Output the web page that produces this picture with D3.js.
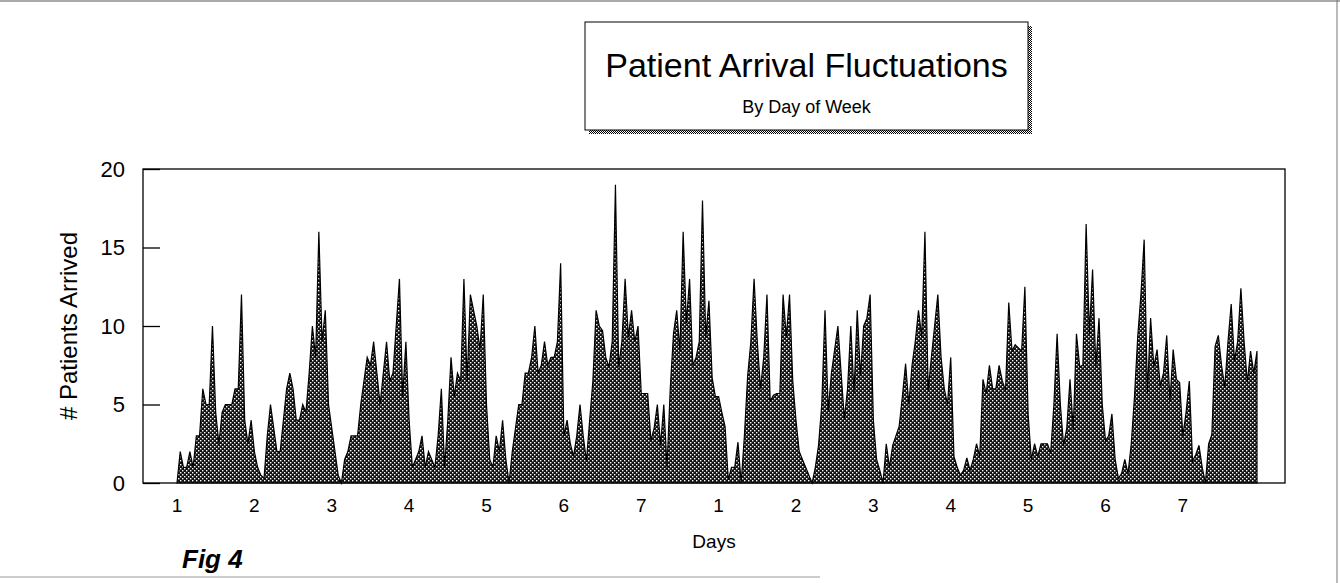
<!DOCTYPE html>
<html>
<head>
<meta charset="utf-8">
<script src="https://cdn.jsdelivr.net/npm/d3@7"></script>
<style>
  body { margin: 0; background: #fff; }
  text { font-family: Arial, "Liberation Sans", sans-serif; fill: #000; }
</style>
</head>
<body>
<div id="chart"></div>
<script>
// hourly arrivals, one array per day (24 values each)
const day1  = [0, 2, 1, 1, 2, 1, 3, 3, 6, 5, 5, 10, 4.5, 2.5, 4.5, 5, 5, 5, 6, 6, 12, 4, 2.5, 4];
const day2  = [2, 1, 0.5, 0.3, 3, 5, 3.5, 2, 2, 4, 6, 7, 6, 4, 4, 5, 4.5, 7, 10, 8, 16, 9, 11, 5];
const day3  = [3.5, 2, 0.5, 0, 1.5, 2, 3, 3, 3, 5, 6.5, 8, 7.5, 9, 7, 5, 7, 9, 6.5, 7, 10, 13, 5.5, 9];
const day4  = [4, 1, 1.5, 2, 3, 1, 2, 1.5, 1, 3, 6, 1, 4, 8, 5.5, 7, 6.5, 13, 6.5, 12, 11, 10, 8.5, 12];
const day5  = [5, 1.5, 1, 3, 2, 4, 1.5, 0, 2, 3.5, 5, 5, 7, 7, 8, 10, 7, 7.5, 9, 7.5, 8, 8, 9, 14];
const day6  = [3, 4, 2.5, 1.7, 3, 5, 3, 1.4, 4, 6.5, 11, 10, 9.7, 8, 7.4, 9, 19, 7.4, 9, 13, 9.3, 11, 9, 10];
const day7  = [5.7, 5.7, 5.7, 2.7, 3.5, 5, 2.4, 5, 1, 6, 9.5, 11, 8.4, 16, 10.2, 13, 7.5, 8, 9, 18, 9.3, 11.6, 6.7, 5.5];
const day8  = [5.5, 4.5, 3.6, 0.2, 1, 1, 2.6, 0, 3, 6.8, 9, 13, 9, 6, 8, 12, 5.2, 5.6, 5.7, 5.7, 12, 9.3, 12, 6.5];
const day9  = [4, 2, 1.5, 1, 0.5, 0, 1, 2.4, 5, 11, 4.6, 7, 8.5, 10, 7, 4.1, 6, 10, 5.7, 11, 6.8, 10, 10.5, 12];
const day10 = [4, 1.5, 0.8, 0, 2.5, 1, 2.4, 3, 3.6, 5.5, 7.6, 5, 7.5, 9, 11, 9.3, 16, 5.9, 8, 10, 12, 8, 6, 5];
const day11 = [8, 1.7, 1, 0.5, 0.8, 1.6, 0.8, 1.5, 2.5, 1.7, 6.6, 5.7, 7.5, 6, 6, 7.5, 6.5, 5.9, 11.5, 8.4, 8.8, 8.6, 8.4, 12.5];
const day12 = [4.4, 1.5, 2.5, 1.7, 2.5, 2.5, 2.5, 1.9, 5, 9.5, 5, 2.4, 3.5, 6.6, 3.4, 9.5, 7.4, 7.5, 16.5, 9.5, 13.6, 7.4, 10.5, 5];
const day13 = [2.7, 3, 4.4, 1.5, 0.3, 0.6, 1.5, 0.6, 2.5, 5.5, 9.3, 12, 15.5, 5.7, 10.5, 7.4, 8.5, 6.2, 7, 9.4, 5.2, 8.5, 6.6, 6.4];
const day14 = [3, 4.5, 6.5, 1.4, 1.8, 2.4, 1, 0, 2.5, 3.1, 8.7, 9.4, 7.5, 6.1, 9, 11.4, 7.8, 9, 12.4, 9, 6.4, 8.4, 7, 8.4];

const dayLabels = ["1", "2", "3", "4", "5", "6", "7", "1", "2", "3", "4", "5", "6", "7"];
const yTicks = [0, 5, 10, 15, 20];

const arrivals = [].concat(day1, day2, day3, day4, day5, day6, day7,
                           day8, day9, day10, day11, day12, day13, day14);

const W = 1340, H = 583;
const plot = {left: 143, right: 1285, top: 169, bottom: 483};

const svg = d3.select("#chart").append("svg")
    .attr("width", W)
    .attr("height", H);

// dithered fill like the old printer output
const defs = svg.append("defs");
const pat = defs.append("pattern")
    .attr("id", "dots")
    .attr("width", 4).attr("height", 4)
    .attr("patternUnits", "userSpaceOnUse");
pat.append("rect").attr("width", 4).attr("height", 4).attr("fill", "#111");
pat.append("rect").attr("x", 0).attr("y", 0).attr("width", 1.4).attr("height", 1.4).attr("fill", "#fff");
pat.append("rect").attr("x", 2).attr("y", 2).attr("width", 1.4).attr("height", 1.4).attr("fill", "#fff");

const shade = defs.append("pattern")
    .attr("id", "shade")
    .attr("width", 2).attr("height", 2)
    .attr("patternUnits", "userSpaceOnUse");
shade.append("rect").attr("width", 2).attr("height", 2).attr("fill", "#fff");
shade.append("rect").attr("width", 1).attr("height", 1).attr("fill", "#000");
shade.append("rect").attr("x", 1).attr("y", 1).attr("width", 1).attr("height", 1).attr("fill", "#000");

// page frame
svg.append("line").attr("x1", 0).attr("x2", W).attr("y1", 1).attr("y2", 1)
    .attr("stroke", "#555").attr("stroke-width", 1);
svg.append("line").attr("x1", W - 3).attr("x2", W - 3).attr("y1", 0).attr("y2", H)
    .attr("stroke", "#777").attr("stroke-width", 1);
svg.append("line").attr("x1", 0).attr("x2", 820).attr("y1", H - 6).attr("y2", H - 6)
    .attr("stroke", "#999").attr("stroke-width", 1);

// title box with shadow
const tb = {x: 585, y: 22, w: 443, h: 108};
svg.append("rect").attr("x", tb.x + 4).attr("y", tb.y + 4).attr("width", tb.w).attr("height", tb.h)
    .attr("fill", "url(#shade)");
svg.append("rect").attr("x", tb.x).attr("y", tb.y).attr("width", tb.w).attr("height", tb.h)
    .attr("fill", "#fff").attr("stroke", "#000").attr("stroke-width", 1);
svg.append("text").attr("x", tb.x + tb.w / 2).attr("y", tb.y + 55)
    .attr("text-anchor", "middle").attr("font-size", 34)
    .text("Patient Arrival Fluctuations");
svg.append("text").attr("x", tb.x + tb.w / 2).attr("y", tb.y + 91)
    .attr("text-anchor", "middle").attr("font-size", 18)
    .text("By Day of Week");

// scales
const x = d3.scaleLinear().domain([0, arrivals.length - 1]).range([177, 1257]);
const y = d3.scaleLinear().domain([0, 20]).range([plot.bottom, plot.top]);

// area
const area = d3.area()
    .x((d, i) => x(i))
    .y0(y(0))
    .y1(d => y(d));

svg.append("path")
    .datum(arrivals)
    .attr("d", area)
    .attr("fill", "url(#dots)")
    .attr("stroke", "#000")
    .attr("stroke-width", 1.2)
    .attr("stroke-linejoin", "miter");

// frame
svg.append("rect")
    .attr("x", plot.left).attr("y", plot.top)
    .attr("width", plot.right - plot.left).attr("height", plot.bottom - plot.top)
    .attr("fill", "none").attr("stroke", "#000").attr("stroke-width", 1.3);

// y axis, ticks pointing inward
const yAxis = svg.append("g")
    .attr("transform", `translate(${plot.left},0)`)
    .call(d3.axisRight(y).tickValues(yTicks).tickSize(17).tickFormat(""));
yAxis.select(".domain").remove();
yAxis.selectAll("line").attr("stroke", "#000").attr("stroke-width", 1.3);

svg.append("g").selectAll("text")
    .data(yTicks)
    .join("text")
    .attr("x", 125)
    .attr("y", d => y(d))
    .attr("dy", "0.35em")
    .attr("text-anchor", "end")
    .attr("font-size", 22)
    .text(d => d);

// x labels, one per day
svg.append("g").selectAll("text")
    .data(dayLabels)
    .join("text")
    .attr("x", (d, i) => x(i * 24))
    .attr("y", 512)
    .attr("text-anchor", "middle")
    .attr("font-size", 19)
    .text(d => d);

svg.append("text")
    .attr("x", (plot.left + plot.right) / 2)
    .attr("y", 548)
    .attr("text-anchor", "middle")
    .attr("font-size", 19)
    .text("Days");

svg.append("text")
    .attr("transform", `translate(77,${(plot.top + plot.bottom) / 2}) rotate(-90)`)
    .attr("text-anchor", "middle")
    .attr("font-size", 24)
    .text("# Patients Arrived");

// handwritten figure mark
svg.append("text")
    .attr("x", 182).attr("y", 568)
    .attr("font-family", "'DejaVu Sans', sans-serif")
    .attr("font-weight", "bold")
    .attr("font-style", "italic")
    .attr("font-size", 26)
    .text("Fig 4");
</script>
</body>
</html>
